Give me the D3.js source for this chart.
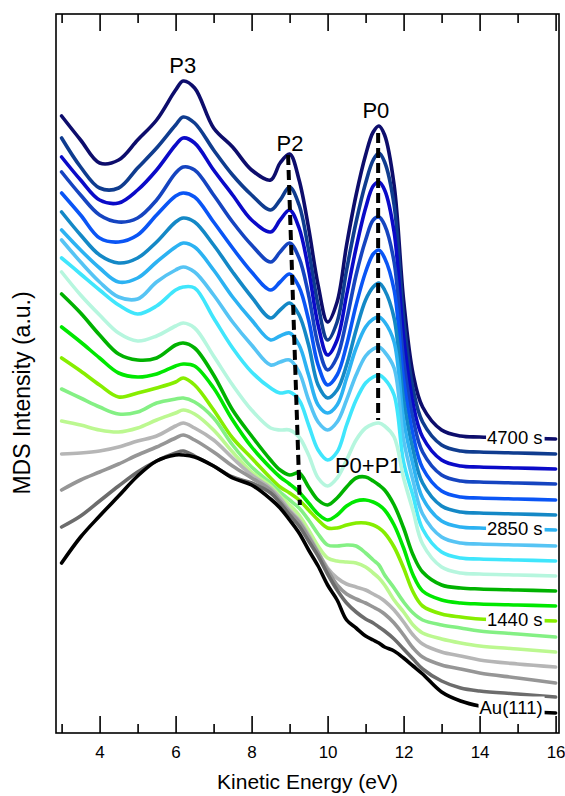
<!DOCTYPE html>
<html>
<head>
<meta charset="utf-8">
<script src="https://cdn.jsdelivr.net/npm/d3@7"></script>
<style>
  body { margin: 0; background: #fff; }
  text { font-family: "Liberation Sans", Arial, Helvetica, sans-serif; fill: #000; }
</style>
</head>
<body>
<svg id="chart" width="565" height="796"></svg>
<script>
// kinetic energy grid (eV)
var energy = [3, 3.5, 4, 4.5, 5, 5.5, 6, 6.2, 6.5, 7, 7.5, 8, 8.5, 8.75, 9, 9.25, 9.5, 9.75, 10,
              10.25, 10.5, 10.75, 11, 11.2, 11.35, 11.5, 11.75, 12, 12.25, 12.5, 13, 13.5, 14, 15, 16];

// offset MDS spectra, top (4700 s) to bottom (clean Au(111))
var intensity = [
  [617, 593, 570, 573, 593, 613, 643, 652, 645, 605, 586, 563, 553, 570, 579, 553, 505, 448, 411, 431, 488, 538, 578, 601, 607, 598, 548, 433, 359, 326, 303, 297, 296, 295, 294],
  [595, 566, 545, 545, 565, 585, 608, 616, 610, 583, 558, 538, 523, 533, 546, 528, 483, 428, 393, 411, 463, 511, 550, 573, 580, 571, 528, 415, 344, 311, 288, 282, 281, 280, 279],
  [576, 553, 533, 530, 543, 563, 588, 595, 590, 563, 538, 513, 501, 513, 523, 505, 463, 408, 378, 393, 438, 485, 525, 547, 551, 543, 501, 396, 329, 296, 273, 267, 266, 265, 264],
  [561, 538, 518, 511, 515, 533, 560, 566, 563, 538, 511, 488, 471, 481, 490, 475, 438, 388, 363, 376, 413, 458, 493, 513, 516, 508, 471, 373, 314, 281, 258, 252, 251, 250, 249],
  [540, 518, 495, 491, 498, 518, 537, 540, 536, 511, 485, 461, 443, 451, 459, 446, 413, 368, 348, 358, 388, 428, 461, 479, 483, 475, 443, 353, 298, 265, 242, 236, 235, 234, 233],
  [521, 498, 478, 470, 475, 491, 511, 515, 511, 488, 461, 436, 415, 423, 430, 418, 388, 348, 335, 343, 368, 403, 433, 446, 450, 443, 415, 333, 283, 250, 227, 221, 220, 219, 218],
  [503, 483, 465, 451, 455, 471, 486, 490, 486, 463, 436, 413, 393, 397, 400, 388, 358, 328, 320, 328, 355, 385, 406, 414, 416, 411, 391, 313, 268, 235, 212, 206, 205, 204, 203],
  [493, 471, 451, 436, 434, 451, 463, 466, 461, 438, 411, 388, 368, 371, 373, 361, 333, 311, 303, 311, 333, 358, 377, 384, 386, 381, 365, 293, 252, 219, 196, 190, 189, 188, 187],
  [475, 459, 443, 428, 419, 427, 443, 446, 445, 415, 385, 361, 345, 340, 341, 333, 308, 283, 273, 281, 308, 333, 350, 356, 358, 354, 338, 271, 237, 204, 181, 175, 174, 173, 172],
  [461, 438, 418, 400, 392, 397, 407, 410, 405, 377, 348, 323, 305, 303, 303, 296, 278, 255, 247, 255, 273, 293, 305, 309, 310, 307, 296, 255, 222, 189, 166, 160, 159, 158, 157],
  [439, 420, 398, 379, 373, 375, 388, 390, 385, 358, 323, 297, 273, 263, 258, 260, 246, 233, 228, 235, 246, 255, 256, 252, 248, 243, 228, 205, 178, 161, 148, 145, 144, 143, 142],
  [406, 391, 375, 360, 356, 359, 367, 369, 367, 345, 313, 286, 265, 256, 249, 241, 230, 219, 213, 218, 227, 232, 233, 231, 228, 223, 208, 185, 158, 142, 133, 130, 129, 128, 127],
  [375, 362, 348, 336, 340, 345, 351, 355, 348, 323, 295, 275, 255, 246, 240, 233, 223, 213, 205, 205, 208, 210, 210, 208, 205, 200, 186, 165, 141, 127, 119, 116, 114, 113, 112],
  [344, 335, 326, 319, 321, 330, 334, 335, 331, 315, 288, 266, 250, 241, 233, 225, 213, 199, 188, 187, 188, 187, 180, 173, 168, 158, 145, 131, 120, 113, 108, 105, 102, 99, 96],
  [312, 308, 303, 301, 305, 313, 320, 323, 319, 303, 281, 261, 247, 237, 228, 218, 203, 187, 175, 172, 171, 170, 166, 160, 155, 148, 133, 121, 108, 100, 94, 90, 87, 84, 81],
  [279, 280, 282, 286, 292, 297, 307, 310, 305, 293, 275, 258, 245, 235, 223, 213, 198, 181, 165, 155, 149, 146, 143, 139, 136, 132, 123, 111, 98, 89, 81, 77, 73, 69, 66],
  [243, 253, 261, 269, 278, 286, 295, 298, 293, 281, 267, 255, 243, 232, 221, 211, 196, 180, 163, 148, 139, 134, 130, 126, 123, 119, 110, 98, 85, 76, 68, 64, 60, 55, 50],
  [206, 217, 232, 247, 261, 272, 280, 282, 277, 267, 256, 250, 240, 230, 218, 207, 192, 177, 159, 143, 130, 121, 114, 110, 106, 102, 94, 84, 74, 64, 52, 45, 42, 39, 36],
  [170, 196, 217, 237, 257, 272, 278, 278, 276, 267, 255, 248, 234, 225, 213, 200, 183, 167, 148, 133, 113, 105, 97, 93, 90, 86, 82, 75, 67, 59, 41, 32, 27, 22, 20]
];

var lineColors = ["#0d0d6c", "#0f3c8f", "#0a0ac8", "#1544c0", "#0a55f5", "#1488c6", "#2cb2f2",
                  "#56c4f4", "#40e6fc", "#b6f6de", "#00b200", "#00e800", "#86ee00", "#84f084",
                  "#bcf890", "#b6b6b6", "#969696", "#6c6c6c", "#000000"];

var tailLabels = [
  {series: 0, text: "4700 s"},
  {series: 6, text: "2850 s"},
  {series: 12, text: "1440 s"},
  {series: 18, text: "Au(111)"}
];

var peakLabels = [
  {text: "P3", e: 6.19, v: 660},
  {text: "P2", e: 9.01, v: 582},
  {text: "P0", e: 11.27, v: 615},
  {text: "P0+P1", e: 11.07, v: 260}
];

var guideP2 = [[8.96, 578], [9.27, 228]];
var guideP0 = [[11.33, 600], [11.33, 313]];

var majorTicks = [4, 6, 8, 10, 12, 14, 16];
var minorTicks = [3, 5, 7, 9, 11, 13, 15];

var frame = {left: 56, right: 559, top: 14, bottom: 733};

var svg = d3.select("#chart");

var x = d3.scaleLinear().domain([3, 16]).range([61.6, 555.6]);
var y = d3.scaleLinear().domain([0, 719]).range([frame.bottom, frame.top]);

var line = d3.line()
    .x(function(d, i) { return x(energy[i]); })
    .y(function(d) { return y(d); })
    .curve(d3.curveCatmullRom.alpha(0.5));

// spectra
svg.append("g").attr("class", "spectra")
  .selectAll("path")
  .data(intensity)
  .enter().append("path")
    .attr("d", line)
    .attr("fill", "none")
    .attr("stroke", function(d, i) { return lineColors[i]; })
    .attr("stroke-width", 3.6)
    .attr("stroke-linejoin", "round")
    .attr("stroke-linecap", "round");

// dashed peak guides
var guide = d3.line().x(function(d) { return x(d[0]); }).y(function(d) { return y(d[1]); });
[guideP2, guideP0].forEach(function(g) {
  svg.append("path")
      .attr("d", guide(g))
      .attr("fill", "none")
      .attr("stroke", "#000")
      .attr("stroke-width", 4)
      .attr("stroke-dasharray", "10,5");
});

// peak labels
svg.append("g").selectAll("text")
  .data(peakLabels)
  .enter().append("text")
    .attr("x", function(d) { return x(d.e); })
    .attr("y", function(d) { return y(d.v); })
    .attr("text-anchor", "middle")
    .style("font-size", "22px")
    .text(function(d) { return d.text; });

// labels at the right end of some spectra, on a white patch
var tails = svg.append("g").selectAll("g")
  .data(tailLabels)
  .enter().append("g");

tails.each(function(d) {
  var g = d3.select(this);
  var vals = intensity[d.series];
  var lift = d.text === "Au(111)" ? 6 : 2;
  var t = g.append("text")
      .attr("x", x(16) - 13)
      .attr("y", y(vals[vals.length - 1]) - lift)
      .attr("text-anchor", "end")
      .attr("dominant-baseline", "central")
      .style("font-size", "18.5px")
      .text(d.text);
  var bb = t.node().getBBox();
  g.insert("rect", "text")
      .attr("x", bb.x - 1)
      .attr("y", bb.y)
      .attr("width", bb.width + 3)
      .attr("height", bb.height)
      .attr("fill", "#fff");
});

// frame
svg.append("rect")
    .attr("x", frame.left)
    .attr("y", frame.top)
    .attr("width", frame.right - frame.left)
    .attr("height", frame.bottom - frame.top)
    .attr("fill", "none")
    .attr("stroke", "#000")
    .attr("stroke-width", 1.6);

// ticks, pointing inwards on top and bottom
function ticks(axis, size, values, ty, labelled) {
  var a = axis(x).tickValues(values).tickSize(-size).tickPadding(13);
  a.tickFormat(labelled ? d3.format("d") : "");
  var g = svg.append("g").attr("transform", "translate(0," + ty + ")").call(a);
  g.select(".domain").remove();
  g.selectAll(".tick line").attr("stroke-width", 1.6);
  g.selectAll("text").style("font-size", "17px").attr("fill", "#000")
      .style("font-family", "'Liberation Sans', Arial, sans-serif");
}
ticks(d3.axisBottom, 17, majorTicks, frame.bottom, true);
ticks(d3.axisBottom, 9, minorTicks, frame.bottom, false);
ticks(d3.axisTop, 17, majorTicks, frame.top, false);
ticks(d3.axisTop, 9, minorTicks, frame.top, false);

// axis titles
svg.append("text")
    .attr("x", (frame.left + frame.right) / 2)
    .attr("y", 789)
    .attr("text-anchor", "middle")
    .style("font-size", "21px")
    .text("Kinetic Energy (eV)");

svg.append("text")
    .attr("transform", "translate(30,393) rotate(-90)")
    .attr("text-anchor", "middle")
    .style("font-size", "23px")
    .text("MDS Intensity (a.u.)");
</script>
</body>
</html>
